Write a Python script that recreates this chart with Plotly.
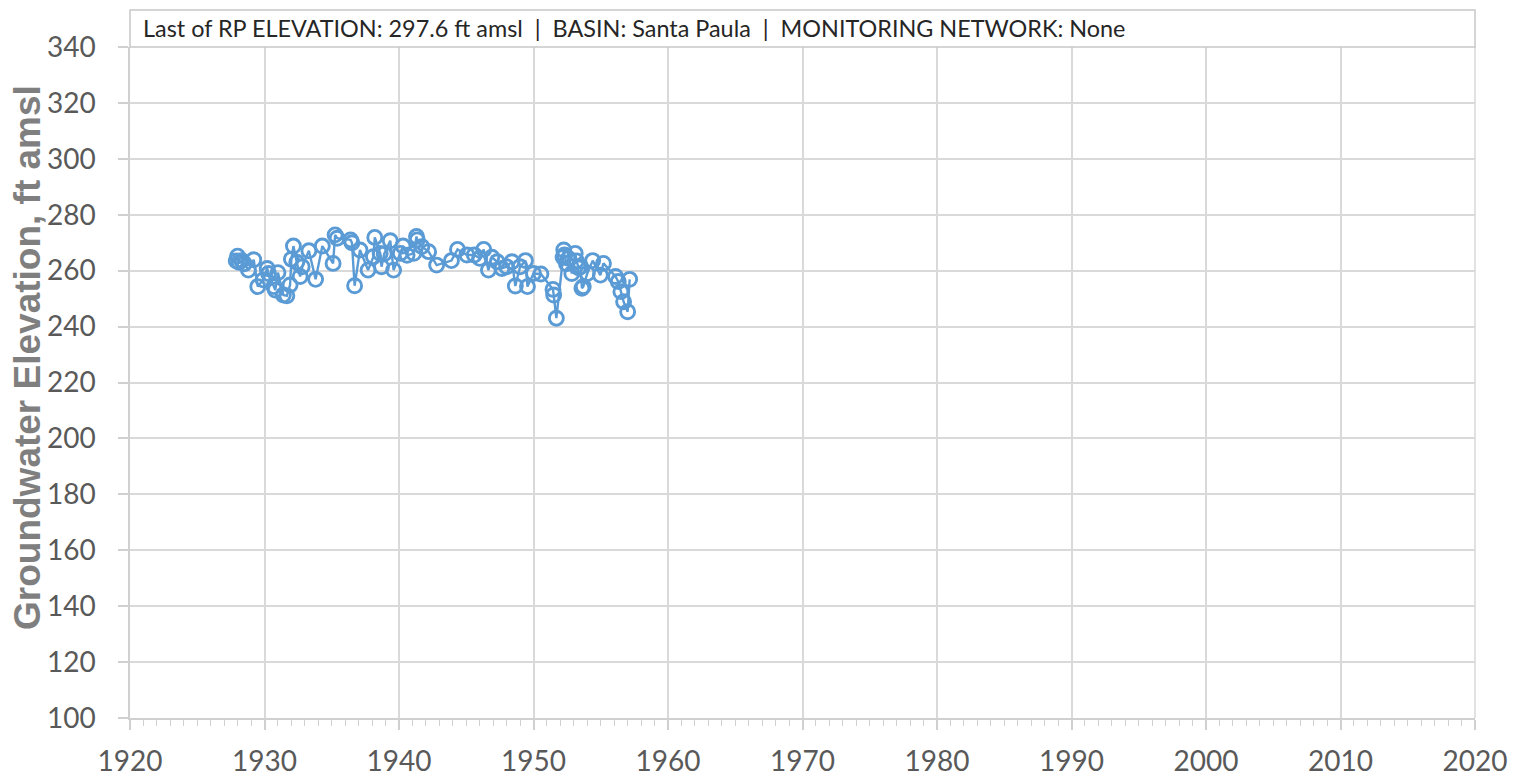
import plotly.graph_objects as go

# Decimal year of each measurement
years = [1927.9, 1928.0, 1928.1, 1928.3, 1928.5, 1928.8, 1929.2, 1929.5, 1929.9, 1930.2,
         1930.3, 1930.7, 1930.8, 1931.0, 1931.4, 1931.66, 1931.9, 1932.0, 1932.15, 1932.4,
         1932.65, 1932.8, 1933.3, 1933.8, 1934.3, 1935.1, 1935.25, 1935.4, 1936.4, 1936.5,
         1936.7, 1937.1, 1937.7, 1938.1, 1938.2, 1938.6, 1938.7, 1938.9, 1939.35, 1939.6,
         1940.1, 1940.3, 1940.6, 1941.1, 1941.3, 1941.35, 1941.7, 1942.2, 1942.8, 1943.9,
         1944.35, 1945.05, 1945.6, 1946.0, 1946.3, 1946.65, 1946.9, 1947.3, 1947.65, 1948.0,
         1948.4, 1948.65, 1949.0, 1949.4, 1949.55, 1950.0, 1950.55, 1951.45, 1951.5, 1951.7,
         1952.2, 1952.25, 1952.3, 1952.45, 1952.6, 1952.85, 1953.1, 1953.2, 1953.35, 1953.5,
         1953.6, 1953.7, 1954.0, 1954.4, 1954.97, 1955.2, 1956.1, 1956.3, 1956.5, 1956.7,
         1957.0, 1957.15]

# Groundwater elevation, ft amsl
elevation = [263.5, 265.2, 263.0, 263.6, 262.5, 260.2, 263.9, 254.3, 256.7, 260.8,
             259.0, 254.3, 253.1, 259.3, 251.3, 251.0, 254.9, 264.1, 268.8, 263.0,
             257.9, 261.4, 267.1, 256.9, 268.8, 262.6, 272.8, 271.6, 271.0, 270.0,
             254.6, 267.4, 260.2, 265.0, 271.9, 266.2, 261.4, 266.0, 270.7, 260.2,
             266.2, 268.8, 265.5, 266.2, 272.2, 271.0, 268.6, 266.8, 262.0, 263.6,
             267.6, 265.6, 265.6, 264.4, 267.6, 260.2, 264.8, 263.2, 260.8, 261.4,
             263.2, 254.5, 261.4, 263.6, 254.3, 259.0, 258.8, 253.3, 251.3, 243.0,
             264.8, 267.4, 265.6, 262.5, 264.4, 259.0, 266.2, 263.5, 261.0, 261.4,
             253.7, 254.3, 259.0, 263.6, 258.4, 262.6, 257.9, 256.1, 252.5, 248.9,
             245.3, 256.9]

x_ticks = [1920, 1930, 1940, 1950, 1960, 1970, 1980, 1990, 2000, 2010, 2020]
y_ticks = [100, 120, 140, 160, 180, 200, 220, 240, 260, 280, 300, 320, 340]
info_text = "Last of RP ELEVATION: 297.6 ft amsl  |  BASIN: Santa Paula  |  MONITORING NETWORK: None"
y_title = "<b>Groundwater Elevation, ft amsl</b>"

blue = "#5b9bd5"
tick_font = dict(family="Lato, 'Open Sans', sans-serif", size=28, color="#595959")

fig = go.Figure()
fig.add_trace(go.Scatter(
    x=years, y=elevation, mode="lines+markers",
    line=dict(color=blue, width=2.4),
    marker=dict(symbol="circle-open", size=14, color=blue, line=dict(width=2.9, color=blue)),
    showlegend=False,
))

fig.update_layout(
    width=1528, height=781,
    margin=dict(l=122, r=61, t=39, b=71, autoexpand=False),
    paper_bgcolor="white", plot_bgcolor="white",
    xaxis=dict(
        range=[1920, 2020], tickvals=x_ticks, ticktext=[str(t) for t in x_ticks],
        showgrid=True, gridcolor="#d9d9d9", gridwidth=1.5,
        showline=True, linecolor="#d0d0d0", linewidth=1.5, mirror=False,
        ticks="outside", ticklen=10, tickcolor="#d0d0d0", tickwidth=1.5,
        ticklabelstandoff=8, automargin=False,
        minor=dict(dtick=1, ticks="outside", ticklen=6, tickcolor="#d0d0d0", tickwidth=1.2, showgrid=False),
        tickfont=tick_font, zeroline=False,
    ),
    yaxis=dict(
        range=[100, 340], tickvals=y_ticks,
        showgrid=True, gridcolor="#d9d9d9", gridwidth=1.5,
        showline=True, linecolor="#d0d0d0", linewidth=1.5,
        ticks="outside", ticklen=10, tickcolor="#d0d0d0", tickwidth=1.5,
        ticklabelstandoff=17, automargin=False,
        tickfont=tick_font, zeroline=False,
    ),
)

# y-axis title placed as rotated text
fig.add_annotation(xref="paper", yref="paper", x=-0.0766, y=0.538, xanchor="center", yanchor="middle",
                   text=y_title, textangle=-90, showarrow=False,
                   font=dict(family="Liberation Sans, Arial, sans-serif", size=37, color="#7f7f7f"))

# right border of plot area
fig.add_shape(type="line", xref="paper", yref="paper", x0=1, x1=1, y0=0, y1=1,
              line=dict(color="#d9d9d9", width=1.5))
# info box above the plot
fig.add_shape(type="rect", xref="paper", yref="paper", x0=0, x1=1, y0=1, y1=1 + 37 / 671,
              line=dict(color="#c8c8c8", width=1.5), fillcolor="white")
fig.add_annotation(xref="paper", yref="paper", x=0.008, y=1 + 19 / 671, xanchor="left", yanchor="middle",
                   text=info_text, showarrow=False,
                   font=dict(family="Lato, 'Open Sans', sans-serif", size=23.4, color="#262626"))

fig.write_html("out.html")
